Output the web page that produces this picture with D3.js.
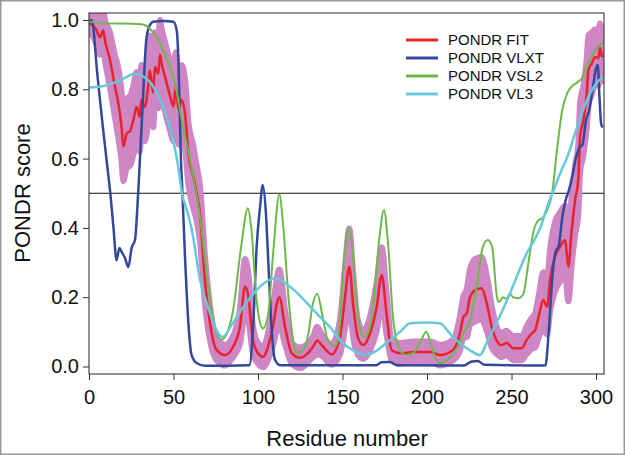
<!DOCTYPE html>
<html><head><meta charset="utf-8">
<script src="https://cdn.jsdelivr.net/npm/d3@7"></script>
<style>body{margin:0;background:#fff} svg{display:block}</style>
</head><body>
<script>
// ---- data ----
const xTicks = [0, 50, 100, 150, 200, 250, 300];
const yTicks = [0, 0.2, 0.4, 0.6, 0.8, 1.0];
const legendLabels = ["PONDR FIT", "PONDR VLXT", "PONDR VSL2", "PONDR VL3"];
const threshold = 0.5;

const fitResidue = [0,2,4,6.5,8.5,9.5,12.4,15.4,17,19.3,20.3,22.3,24.3,26.2,28.2,30,31,33,35,36,38,39,41,42,43,45,46.5,48,50,51.3,53,54.8,56.8,58.8,61.7,63.7,65.7,68.6,71.6,75.5,80.5,85.2,89.3,92.3,94,97,100,103,108,112.6,116,120,125,132.6,135,138,143.6,148.5,151.5,154,156.4,159,162.3,166.3,170.2,173.2,176,179,184,192,202,207.7,215.4,219.5,221.5,223.5,225.4,228.4,232.3,235.3,238.3,241,244,247,251,256,259,262,264,266,268.8,271,272.8,275.7,278.7,281.7,283.6,285.6,287.6,289.5,290.5,292.5,294.5,295.5,297.4,299.4,301.4,302.4,303.5];
const fitScore = [0.99,0.985,0.975,0.95,0.97,0.94,0.885,0.807,0.77,0.69,0.635,0.673,0.68,0.71,0.75,0.72,0.77,0.75,0.807,0.855,0.79,0.865,0.845,0.9,0.874,0.836,0.807,0.78,0.75,0.807,0.74,0.77,0.73,0.615,0.548,0.5,0.44,0.25,0.125,0.048,0.033,0.057,0.114,0.23,0.21,0.077,0.038,0.028,0.096,0.2,0.114,0.038,0.025,0.057,0.075,0.06,0.035,0.085,0.2,0.288,0.172,0.085,0.062,0.096,0.172,0.264,0.154,0.048,0.038,0.042,0.042,0.033,0.048,0.096,0.143,0.154,0.2,0.22,0.226,0.183,0.114,0.077,0.062,0.068,0.053,0.053,0.077,0.096,0.105,0.143,0.192,0.172,0.25,0.317,0.345,0.365,0.288,0.394,0.48,0.54,0.66,0.71,0.79,0.856,0.874,0.893,0.89,0.92,0.893];
const fitSpread = [0.03,0.03,0.04,0.05,0.06,0.06,0.08,0.09,0.1,0.1,0.1,0.1,0.1,0.1,0.1,0.1,0.1,0.1,0.1,0.1,0.1,0.1,0.1,0.1,0.1,0.1,0.1,0.1,0.1,0.1,0.1,0.1,0.1,0.09,0.09,0.08,0.08,0.07,0.05,0.03,0.03,0.03,0.05,0.08,0.07,0.04,0.03,0.03,0.05,0.08,0.05,0.03,0.03,0.03,0.04,0.03,0.03,0.05,0.09,0.11,0.09,0.05,0.04,0.05,0.07,0.08,0.06,0.03,0.03,0.03,0.03,0.03,0.03,0.05,0.06,0.07,0.08,0.09,0.09,0.08,0.06,0.04,0.035,0.035,0.035,0.035,0.04,0.045,0.05,0.06,0.08,0.08,0.09,0.1,0.1,0.1,0.1,0.1,0.1,0.1,0.1,0.1,0.1,0.1,0.09,0.08,0.08,0.07,0.07];

const vlxtResidue = [0,1.6,5,8,11,12.4,14.5,16.3,18,19.3,21.3,23.3,25.2,27.2,29.2,31.5,34,36,38,44,49.9,51.9,52.9,54.4,55.2,56.8,58.8,60.7,63.7,68.6,94.9,97.3,99.2,101.2,102.8,104.7,106.1,108.1,110,113,170,173,178,182,222,226,230,234,270,272,274,276,278,280,282,284,286,288,290,292,294,296,298,300,301,302,303,304];
const vlxtScore = [0.99,1.0,0.84,0.7,0.57,0.51,0.4,0.307,0.342,0.331,0.313,0.287,0.342,0.365,0.51,0.73,0.948,0.985,0.995,0.997,0.995,0.97,0.885,0.596,0.51,0.317,0.125,0.033,0.01,0.002,0.004,0.134,0.346,0.46,0.524,0.44,0.3,0.105,0.02,0.004,0.004,0.012,0.013,0.004,0.003,0.014,0.016,0.005,0.003,0.1,0.25,0.33,0.35,0.43,0.48,0.51,0.55,0.6,0.63,0.64,0.71,0.74,0.8,0.86,0.87,0.78,0.7,0.69];

const vsl2Residue = [0,5,10,20,31,36,40,44,48,52,55.7,59.8,62.7,66,70,73,75.6,78.5,81,85,90,94,96,99,101,103,106,109,112.6,115,118,121,123,126,130,132,135,138,141,144,146,148,150,152,154,156,158,160,163,166,169,172,174.5,177,180,184,188,192,196,199.5,202,205,207.7,212,216,219.5,222,225.4,228,230,233,236,238.5,241.4,242.5,245,247,249,251,254,257,260,263,265.5,268.6,271,274,277,280,283,286,289,292,294.5,297.5,300.5,304];
const vsl2Score = [0.995,0.993,0.99,0.99,0.988,0.975,0.95,0.91,0.865,0.79,0.69,0.596,0.52,0.42,0.25,0.15,0.096,0.077,0.09,0.155,0.345,0.457,0.4,0.2,0.13,0.11,0.15,0.33,0.497,0.4,0.2,0.07,0.04,0.045,0.1,0.17,0.21,0.15,0.08,0.062,0.06,0.1,0.25,0.36,0.4,0.33,0.2,0.12,0.085,0.11,0.22,0.38,0.452,0.35,0.134,0.047,0.033,0.04,0.07,0.1,0.07,0.025,0.01,0.02,0.04,0.068,0.1,0.13,0.19,0.25,0.345,0.365,0.345,0.2,0.186,0.2,0.195,0.21,0.2,0.197,0.21,0.3,0.39,0.42,0.43,0.45,0.5,0.63,0.74,0.79,0.81,0.82,0.835,0.87,0.895,0.92,0.935];

const vl3Residue = [0,7,14,20,27,31,34,37,40,43,46,49,51,53,55,58,61,65.7,71.6,75,79,85,93,101,110,119,129,136.7,142.6,150,157,163,170,176,184,190,200,207.7,211,215.4,220,225,231.4,235,239,244,249,254,259,264,267,271,275,279,283,288.7,294.7,300.6,304];
const vl3Score = [0.805,0.808,0.817,0.83,0.845,0.84,0.83,0.815,0.79,0.76,0.72,0.67,0.625,0.57,0.5,0.45,0.39,0.25,0.154,0.11,0.085,0.125,0.183,0.23,0.255,0.23,0.183,0.143,0.114,0.068,0.045,0.033,0.045,0.068,0.1,0.125,0.127,0.125,0.11,0.085,0.065,0.048,0.033,0.065,0.105,0.155,0.21,0.27,0.327,0.37,0.4,0.46,0.51,0.56,0.605,0.69,0.77,0.82,0.835];

// ---- layout ----
const W = 625, H = 455;
const colors = {fit: "#e8232b", band: "#cf86c5", vlxt: "#34499c", vsl2: "#6cb94a", vl3: "#66c9da"};
const font = "'Liberation Sans', Arial, sans-serif";

const svg = d3.select("body").append("svg").attr("width", W).attr("height", H)
  .style("font-family", font);

svg.append("rect").attr("x", 0.75).attr("y", 0.75).attr("width", W - 1.5).attr("height", H - 1.5)
  .attr("fill", "#fff").attr("stroke", "#9a9a9a").attr("stroke-width", 1.5);

const x = d3.scaleLinear().domain([0, 304.7]).range([89, 604]);
const y = d3.scaleLinear().domain([-0.0216, 1.0202]).range([374, 13]);

svg.append("clipPath").attr("id", "clip").append("rect")
  .attr("x", x.range()[0]).attr("y", y.range()[1])
  .attr("width", x.range()[1] - x.range()[0]).attr("height", y.range()[0] - y.range()[1]);

const zip = (r, v) => r.map((d, i) => ({r: d, v: v[i]}));
const fitData = fitResidue.map((d, i) => ({r: d, v: fitScore[i], e: fitSpread[i]}));

const plot = svg.append("g").attr("clip-path", "url(#clip)");

// threshold line
plot.append("line").attr("x1", x.range()[0]).attr("x2", x.range()[1])
  .attr("y1", y(threshold)).attr("y2", y(threshold)).attr("stroke", "#111").attr("stroke-width", 1);

const band = d3.area().x(d => x(d.r)).y0(d => y(d.v - d.e)).y1(d => y(d.v + d.e)).curve(d3.curveMonotoneX);
plot.append("path").datum(fitData).attr("d", band).attr("fill", colors.band)
  .attr("stroke", colors.band).attr("stroke-width", 6).attr("stroke-linejoin", "round");

const line = d3.line().x(d => x(d.r)).y(d => y(d.v)).curve(d3.curveMonotoneX);
const series = [
  {key: "fit", data: zip(fitResidue, fitScore), w: 2.5},
  {key: "vlxt", data: zip(vlxtResidue, vlxtScore), w: 2.5},
  {key: "vsl2", data: zip(vsl2Residue, vsl2Score), w: 2},
  {key: "vl3", data: zip(vl3Residue, vl3Score), w: 2.5}
];
series.forEach(s => {
  plot.append("path").datum(s.data).attr("d", line).attr("fill", "none")
    .attr("stroke", colors[s.key]).attr("stroke-width", s.w).attr("stroke-linejoin", "round");
});

// frame
svg.append("rect").attr("x", x.range()[0]).attr("y", y.range()[1])
  .attr("width", x.range()[1] - x.range()[0]).attr("height", y.range()[0] - y.range()[1])
  .attr("fill", "none").attr("stroke", "#222").attr("stroke-width", 1);

// axes
const xAxis = svg.append("g").attr("transform", `translate(0,${y.range()[0]})`)
  .call(d3.axisBottom(x).tickValues(xTicks).tickSize(6).tickSizeOuter(0).tickPadding(10));
const yAxis = svg.append("g").attr("transform", `translate(${x.range()[0]},0)`)
  .call(d3.axisLeft(y).tickValues(yTicks).tickFormat(d3.format(".1f")).tickSize(6).tickSizeOuter(0).tickPadding(4));
[xAxis, yAxis].forEach(a => {
  a.select(".domain").remove();
  a.selectAll("line").attr("stroke", "#333");
  a.selectAll("text").attr("fill", "#111").style("font-size", "20px").style("font-family", font);
});

svg.append("text").attr("x", 347).attr("y", 446).attr("text-anchor", "middle")
  .style("font-size", "22px").attr("fill", "#111").text("Residue number");
svg.append("text").attr("transform", "translate(30,193) rotate(-90)").attr("text-anchor", "middle")
  .style("font-size", "22px").attr("fill", "#111").text("PONDR score");

// legend
const legKeys = ["fit", "vlxt", "vsl2", "vl3"];
const leg = svg.append("g");
legendLabels.forEach((lab, i) => {
  const yy = 40 + i * 18;
  leg.append("line").attr("x1", 406).attr("x2", 438).attr("y1", yy).attr("y2", yy)
    .attr("stroke", colors[legKeys[i]]).attr("stroke-width", 3);
  leg.append("text").attr("x", 448).attr("y", yy).attr("dy", "0.36em")
    .style("font-size", "15px").attr("fill", "#111").text(lab);
});
</script>
</body></html>
